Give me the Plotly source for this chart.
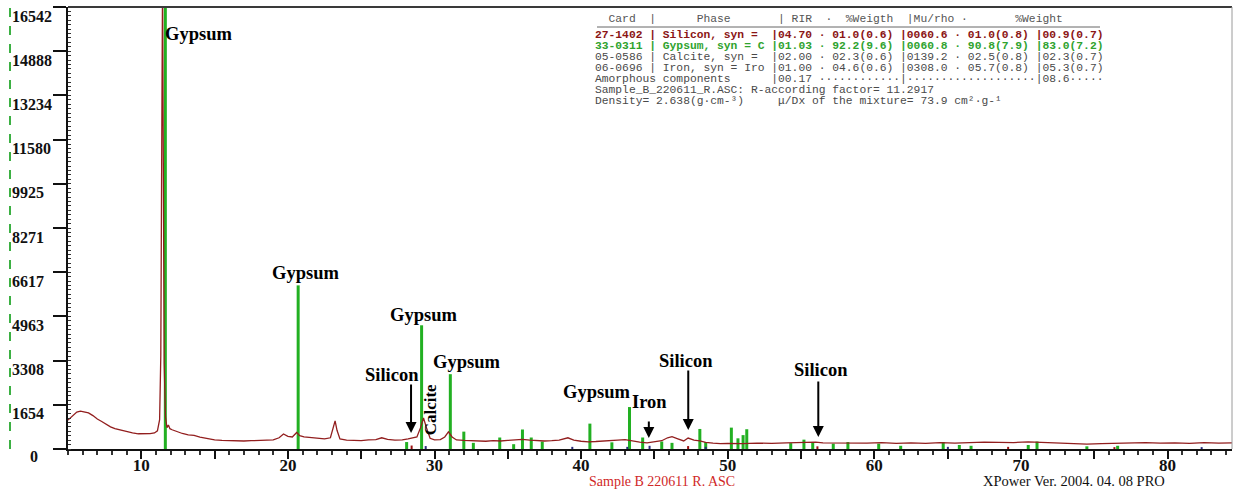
import plotly.graph_objects as go

# ---------------- data ----------------
two_theta = [5.0, 5.3, 5.6, 5.85, 6.1, 6.4, 6.7, 7.0, 7.3, 7.6, 7.9, 8.2, 8.6, 9.0, 9.4, 9.8,
             10.2, 10.6, 10.9, 11.1, 11.25, 11.33, 11.40, 11.45, 11.50, 11.56, 11.65, 11.75,
             11.85, 11.95, 12.1, 12.4, 12.8, 13.2, 13.6, 14.0, 14.5, 15.0, 15.5, 16.0, 16.5,
             17.0, 17.5, 18.0, 18.5, 19.0, 19.4, 19.7, 20.0, 20.3, 20.6, 20.8, 21.1, 21.5,
             22.0, 22.5, 22.9, 23.1, 23.22, 23.35, 23.55, 24.0, 24.5, 25.0, 25.5, 26.0, 26.4,
             26.8, 27.3, 27.8, 28.2, 28.5, 28.8, 29.05, 29.25, 29.45, 29.7, 30.0, 30.4, 30.7,
             30.95, 31.2, 31.5, 32.0, 32.5, 33.0, 33.5, 34.0, 34.5, 35.0, 35.5, 36.0, 36.5,
             37.0, 37.5, 38.0, 38.5, 39.1, 39.5, 40.0, 40.5, 41.0, 41.5, 42.0, 42.5, 43.0,
             43.5, 44.0, 44.5, 45.0, 45.5, 45.9, 46.2, 46.6, 47.0, 47.3, 47.7, 48.1, 48.5,
             49.0, 49.5, 50.0, 51.0, 52.0, 53.0, 54.0, 55.0, 56.0, 56.5, 57.5, 58.5, 59.5,
             60.5, 61.5, 62.5, 63.5, 64.5, 65.5, 66.5, 67.5, 68.5, 69.5, 70.5, 71.5, 72.5,
             73.5, 74.5, 75.5, 76.5, 77.5, 78.5, 79.5, 80.5, 81.5, 82.5, 83.5, 84.4]
intensity = [1080, 1250, 1380, 1420, 1390, 1350, 1250, 1120, 1030, 920, 830, 760, 700, 640, 600, 570,
             560, 575, 600, 680, 1100, 3500, 12000, 17500, 11000, 3200, 1200, 800,
             900, 760, 720, 650, 580, 530, 510, 440, 380, 340, 320, 310, 300,
             300, 310, 320, 330, 340, 420, 560, 470, 450, 620, 500, 450, 430,
             400, 380, 420, 800, 1050, 700, 380, 330, 320, 310, 340, 350, 420,
             360, 330, 340, 380, 420, 450, 800, 1160, 800, 400, 340, 350, 450,
             640, 450, 340, 320, 310, 300, 290, 310, 300, 320, 330, 360, 330,
             310, 300, 310, 330, 420, 330, 290, 270, 280, 290, 310, 330, 350,
             300, 260, 230, 260, 310, 420, 460, 380, 300, 410, 330, 300, 250,
             220, 200, 210, 200, 220, 210, 230, 250, 260, 230, 220, 230, 220,
             240, 210, 230, 210, 240, 220, 240, 260, 250, 240, 270, 250, 220,
             200, 180, 200, 210, 220, 240, 220, 230, 210, 240, 220, 230]

gypsum_pos = [11.64, 20.70, 28.10, 29.12, 31.08, 32.00, 32.65, 34.45, 35.40, 36.00, 36.60, 37.35,
              40.60, 42.10, 43.30, 44.20, 45.50, 46.20, 48.10, 48.50, 50.25, 50.70, 51.05, 51.30,
              54.30, 55.20, 55.80, 57.20, 58.20, 60.30, 61.80, 64.70, 65.80, 66.60, 70.50, 71.10,
              74.50, 76.60]
gypsum_int = [17000, 6124, 260, 4630, 2800, 650, 230, 430, 180, 730, 430, 280,
              950, 250, 1570, 430, 280, 230, 750, 260, 800, 400, 520, 740,
              220, 350, 260, 200, 260, 200, 120, 260, 150, 120, 150, 280,
              100, 120]
silicon_pos = [28.44, 47.30, 56.12, 69.13, 76.38]
silicon_int = [130, 110, 100, 80, 70]
other_pos = [29.40, 39.40, 43.15, 44.67, 48.50, 65.02, 82.33]
other_int = [110, 80, 80, 120, 80, 80, 70]

y_ticks = [0, 1654, 3308, 4963, 6617, 8271, 9925, 11580, 13234, 14888, 16542]
x_label_ticks = [10, 20, 30, 40, 50, 60, 70, 80]
x_half_ticks = [15, 25, 35, 45, 55, 65, 75]

table_rows = [
    "  Card  |      Phase       | RIR  ·  %Weigth  |Mu/rho ·       %Weight",
    "27-1402 | Silicon, syn =  |04.70 · 01.0(0.6) |0060.6 · 01.0(0.8) |00.9(0.7)",
    "33-0311 | Gypsum, syn = C |01.03 · 92.2(9.6) |0060.8 · 90.8(7.9) |83.0(7.2)",
    "05-0586 | Calcite, syn =  |02.00 · 02.3(0.6) |0139.2 · 02.5(0.8) |02.3(0.7)",
    "06-0696 | Iron, syn = Iro |01.00 · 04.6(0.6) |0308.0 · 05.7(0.8) |05.3(0.7)",
    "Amorphous components      |00.17 ············|···················|08.6·····",
    "Sample_B_220611_R.ASC: R-according factor= 11.2917",
    "Density= 2.638(g·cm-³)     μ/Dx of the mixture= 73.9 cm²·g-¹",
]
table_colors = ["#555555", "#8b1515", "#2fa32f", "#4a4a4a", "#4a4a4a", "#4a4a4a", "#4a4a4a", "#4a4a4a"]
table_bold = [False, True, True, False, False, False, False, False]

# peak labels: (text, x, y, anchor, angle)
peak_labels = [
    ("Gypsum", 11.5, 15533, "left", 0),
    ("Gypsum", 21.19, 6572, "center", 0),
    ("Gypsum", 29.27, 5004, "center", 0),
    ("Gypsum", 32.17, 3249, "center", 0),
    ("Silicon", 27.09, 2763, "center", 0),
    ("Calcite", 29.71, 1456, "center", -90),
    ("Gypsum", 41.07, 2128, "center", 0),
    ("Iron", 44.65, 1755, "center", 0),
    ("Silicon", 47.18, 3286, "center", 0),
    ("Silicon", 56.38, 2950, "center", 0),
]
# arrows: (x of head, y of head, tail length px)
arrows = [(28.40, 597, 50), (44.62, 411, 18), (47.31, 709, 61), (56.18, 448, 57)]

# ---------------- figure ----------------
W, H = 1236, 492
ML, MR, MT, MB = 68, 4, 7, 43
PW, PH = W - ML - MR, H - MT - MB


def px_x(px):
    return (px - ML) / PW


def px_y(py):
    return (H - MB - py) / PH


def sticks(pos, val):
    xs, ys = [], []
    for p, v in zip(pos, val):
        xs += [p, p, None]
        ys += [0, v, None]
    return xs, ys


fig = go.Figure()

gx, gy = sticks(gypsum_pos, gypsum_int)
fig.add_trace(go.Scatter(x=gx, y=gy, mode="lines", line=dict(color="#22b022", width=3),
                         hoverinfo="skip", showlegend=False))
sx, sy = sticks(silicon_pos, silicon_int)
fig.add_trace(go.Scatter(x=sx, y=sy, mode="lines", line=dict(color="#9b1010", width=2),
                         hoverinfo="skip", showlegend=False))
ox, oy = sticks(other_pos, other_int)
fig.add_trace(go.Scatter(x=ox, y=oy, mode="lines", line=dict(color="#2a2a7a", width=2),
                         hoverinfo="skip", showlegend=False))
fig.add_trace(go.Scatter(x=two_theta, y=intensity, mode="lines",
                         line=dict(color="#921e1e", width=1.3), showlegend=False))

serif_bold = dict(family="Liberation Serif", size=16, color="#111111", weight="bold")

annotations = []
for i, v in enumerate(y_ticks):
    if v == 0:
        annotations.append(dict(x=px_x(34), xref="paper", y=v, yref="y", text=str(v), showarrow=False,
                                xanchor="center", yanchor="middle", yshift=-7, font=serif_bold))
    else:
        annotations.append(dict(x=px_x(10), xref="paper", y=v, yref="y", text=str(v), showarrow=False,
                                xanchor="left", yanchor="middle", yshift=-9, font=serif_bold))

for text, x, y, anc, ang in peak_labels:
    annotations.append(dict(x=x, y=y, xref="x", yref="y", text=text, showarrow=False,
                            xanchor=anc, yanchor="middle", textangle=ang,
                            font=dict(family="Liberation Serif", size=18.5 if ang == 0 else 17,
                                      color="#000000", weight="bold")))

for x, y, L in arrows:
    annotations.append(dict(x=x, y=y, xref="x", yref="y", ax=0, ay=-L, text="", showarrow=True,
                            arrowhead=2, arrowsize=1.1, arrowwidth=2, arrowcolor="#000000"))

row_y = [19, 35, 46, 57, 68, 79, 90, 101]
for txt, col, b, yy in zip(table_rows, table_colors, table_bold, row_y):
    annotations.append(dict(x=px_x(593), y=px_y(yy), xref="paper", yref="paper", text=txt.replace(" ", "\u00a0"),
                            showarrow=False, xanchor="left", yanchor="middle",
                            font=dict(family="Liberation Mono", size=11.3, color=col,
                                      weight="bold" if b else "normal")))

annotations.append(dict(x=px_x(662), y=px_y(481), xref="paper", yref="paper",
                        text="Sample B 220611 R. ASC", showarrow=False, xanchor="center", yanchor="middle",
                        borderpad=0, font=dict(family="Liberation Serif", size=14, color="#d02828")))
annotations.append(dict(x=px_x(982), y=px_y(481), xref="paper", yref="paper",
                        text="XPower Ver. 2004. 04. 08 PRO", showarrow=False, xanchor="left", yanchor="middle",
                        borderpad=0, font=dict(family="Liberation Serif", size=14.5, color="#111111")))

shapes = [
    dict(type="line", xref="paper", yref="paper", x0=0, x1=1, y0=1, y1=1,
         line=dict(color="#3a3a3a", width=2)),
    dict(type="line", xref="paper", yref="paper", x0=1, x1=1, y0=0, y1=1,
         line=dict(color="#9a9a9a", width=1)),
    dict(type="line", xref="paper", yref="paper", x0=px_x(10), x1=px_x(10), y0=0, y1=px_y(0),
         line=dict(color="#3cb043", width=2, dash="dash")),
    dict(type="line", xref="paper", yref="paper", x0=px_x(597), x1=px_x(1100), y0=px_y(27), y1=px_y(27),
         line=dict(color="#666666", width=1)),
]

tickvals = sorted(x_label_ticks + x_half_ticks)
ticktext = [str(v) if v in x_label_ticks else "" for v in tickvals]

fig.update_layout(
    width=W, height=H,
    margin=dict(l=ML, r=MR, t=MT, b=MB),
    paper_bgcolor="#ffffff", plot_bgcolor="#ffffff",
    annotations=annotations, shapes=shapes,
    xaxis=dict(range=[5.0, 84.4], tickvals=tickvals, ticktext=ticktext,
               ticks="outside", ticklen=8, tickwidth=1.5, tickcolor="#111111",
               ticklabelstandoff=-8,
               showline=True, linecolor="#111111", linewidth=2, showgrid=False, zeroline=False,
               tickfont=dict(family="Liberation Serif", size=17, color="#111111", weight="bold"),
               minor=dict(dtick=1, tick0=0, ticks="outside", ticklen=4, tickwidth=1.5, tickcolor="#333333",
                          showgrid=False)),
    yaxis=dict(range=[0, 16542], tickvals=y_ticks, showticklabels=False,
               ticks="outside", ticklen=13, tickwidth=1.5, tickcolor="#111111",
               showline=True, linecolor="#111111", linewidth=2, showgrid=False, zeroline=False,
               minor=dict(dtick=165.42, tick0=0, ticks="inside", ticklen=3, tickwidth=1, tickcolor="#333333",
                          showgrid=False)),
)

fig.write_html("out.html", config={"displayModeBar": False},
               post_script="document.body.style.margin='0px';document.body.style.padding='0px';"
                           "document.body.style.overflow='hidden';")
